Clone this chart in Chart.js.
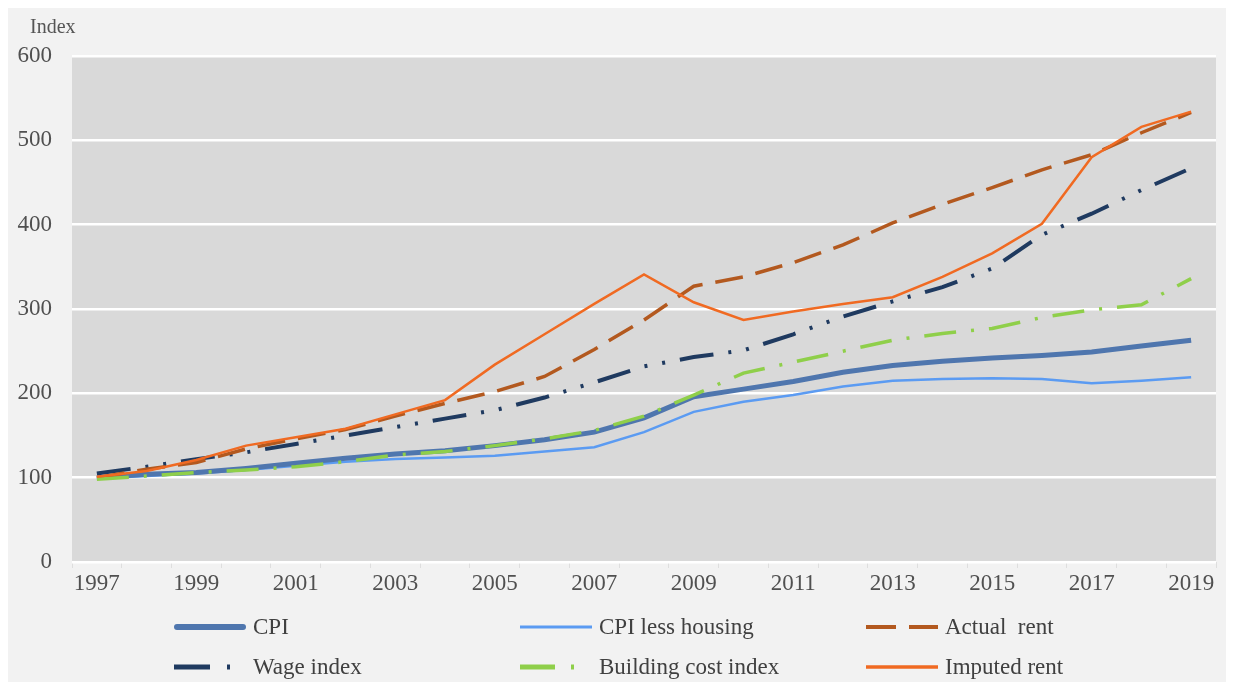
<!DOCTYPE html>
<html>
<head>
<meta charset="utf-8">
<script src="https://cdn.jsdelivr.net/npm/chart.js@4.4.1/dist/chart.umd.min.js"></script>
<style>
  html, body { margin: 0; padding: 0; background: #fff; }
  #wrap { position: relative; width: 1236px; height: 682px; overflow: hidden; }
  #frame { position: absolute; left: 8px; top: 8px; right: 10px; bottom: 0; background: #f2f2f2; }
  #chart { position: absolute; left: 0; top: 0; }
  #ytitle { position: absolute; left: 30px; top: 15px; font: 20px "Liberation Serif", serif; color: #555; }
  #legend { position: absolute; left: 0; top: 0; width: 1236px; font: 23px "Liberation Serif", serif; color: #404040; }
  .item { position: absolute; display: flex; align-items: center; height: 30px; white-space: pre; }
  .item svg { margin-right: 7px; }
</style>
</head>
<body>
<div id="wrap">
  <div id="frame"></div>
  <canvas id="chart" width="1236" height="682"></canvas>
  <div id="ytitle">Index</div>
  <div id="legend"></div>
</div>
<script>
// chart data
const years = ['1997','1998','1999','2000','2001','2002','2003','2004','2005','2006','2007','2008',
               '2009','2010','2011','2012','2013','2014','2015','2016','2017','2018','2019'];
const cpi = [100,104,106,111,117,123,128,132,138,145,154,171,196,205,214,225,233,238,242,245,249,256,263];
const cpiLessHousing = [99,102,105,109,114,119,122,124,126,131,136,154,178,190,198,208,215,217,218,217,212,215,219];
const actualRent = [100,110,118,134,146,157,173,188,202,220,252,287,327,338,355,376,402,424,444,465,483,509,533];
const wageIndex = [105,113,122,130,140,150,160,170,180,195,213,232,243,251,270,291,309,326,348,388,413,441,467];
const buildingCost = [98,102,106,109,113,119,127,131,138,146,156,173,198,224,237,250,263,271,277,290,299,305,336];
const imputedRent = [101,108,121,138,148,158,175,192,234,270,306,341,308,287,297,306,314,338,366,401,480,516,534];
const yTicks = [0,100,200,300,400,500,600];

const serif = '"Liberation Serif", "Times New Roman", serif';

// gray plot area
const plotBg = {
  id: 'plotBg',
  beforeDraw(chart) {
    const { ctx, chartArea: a } = chart;
    ctx.save();
    ctx.fillStyle = '#d9d9d9';
    ctx.fillRect(a.left, a.top, a.right - a.left, a.bottom - a.top);
    ctx.restore();
  }
};

// legend laid out in 3 columns like the original
const columnLegend = {
  id: 'columnLegend',
  afterUpdate(chart) {
    const box = document.getElementById('legend');
    box.innerHTML = '';
    const cols = [174, 520, 866];
    const rows = [612, 652];
    chart.data.datasets.forEach((ds, i) => {
      const item = document.createElement('div');
      item.className = 'item';
      item.style.left = cols[i % 3] + 'px';
      item.style.top = rows[Math.floor(i / 3)] + 'px';
      const dash = ds.legendDash ? ' stroke-dasharray="' + ds.legendDash + '"' : '';
      const cap = ds.legendCap || 'butt';
      item.innerHTML =
        '<svg width="72" height="12"><line x1="' + (cap === 'round' ? 3 : 0) + '" y1="6" x2="' + (cap === 'round' ? 69 : 72) +
        '" y2="6" stroke="' + ds.borderColor + '" stroke-width="' + ds.legendWidth + '" stroke-linecap="' + cap + '"' + dash + '/></svg>' +
        '<span>' + ds.label + '</span>';
      box.appendChild(item);
    });
  }
};

new Chart(document.getElementById('chart'), {
  type: 'line',
  data: {
    labels: years,
    datasets: [
      { label: 'CPI', data: cpi, borderColor: '#4f76ae', borderWidth: 5, order: 3,
        legendWidth: 6, legendCap: 'round' },
      { label: 'CPI less housing', data: cpiLessHousing, borderColor: '#5b9bf2', borderWidth: 2.5, order: 5,
        legendWidth: 3 },
      { label: 'Actual  rent', data: actualRent, borderColor: '#b3591f', borderWidth: 3.5, borderDash: [28, 13], order: 2,
        legendWidth: 4, legendDash: '30 13' },
      { label: 'Wage index', data: wageIndex, borderColor: '#1f3a60', borderWidth: 4, borderDash: [34, 15, 3, 15, 3, 15], order: 4,
        legendWidth: 5, legendDash: '36 17 3 30' },
      { label: 'Building cost index', data: buildingCost, borderColor: '#8fcf4a', borderWidth: 3.5, borderDash: [32, 15, 3, 15], order: 1,
        legendWidth: 5, legendDash: '35 16 3 30' },
      { label: 'Imputed rent', data: imputedRent, borderColor: '#f06a22', borderWidth: 2.5, order: 0,
        legendWidth: 3.5 }
    ]
  },
  options: {
    responsive: false,
    animation: false,
    layout: { padding: { left: 0, top: 56, right: 20, bottom: 0 } },
    elements: { point: { radius: 0 }, line: { tension: 0, borderCapStyle: 'butt' } },
    plugins: { legend: { display: false }, tooltip: { enabled: false } },
    scales: {
      x: {
        offset: true,
        border: { display: false },
        grid: { offset: true, drawOnChartArea: false, drawTicks: true, tickLength: 6, color: '#dedede' },
        ticks: {
          autoSkip: false, maxRotation: 0, padding: 2, color: '#505050',
          font: { family: serif, size: 23 },
          callback: (v, i) => (i % 2 === 0 ? years[i] : '')
        },
        afterFit: s => { s.height = 120; }
      },
      y: {
        min: 0, max: 600,
        border: { display: false },
        grid: { color: '#ffffff', lineWidth: 2.5, drawTicks: false },
        afterBuildTicks: s => { s.ticks = yTicks.map(v => ({ value: v })); },
        ticks: { padding: 20, color: '#505050', font: { family: serif, size: 23 } },
        afterFit: s => { s.width = 72; }
      }
    }
  },
  plugins: [plotBg, columnLegend]
});
</script>
</body>
</html>
